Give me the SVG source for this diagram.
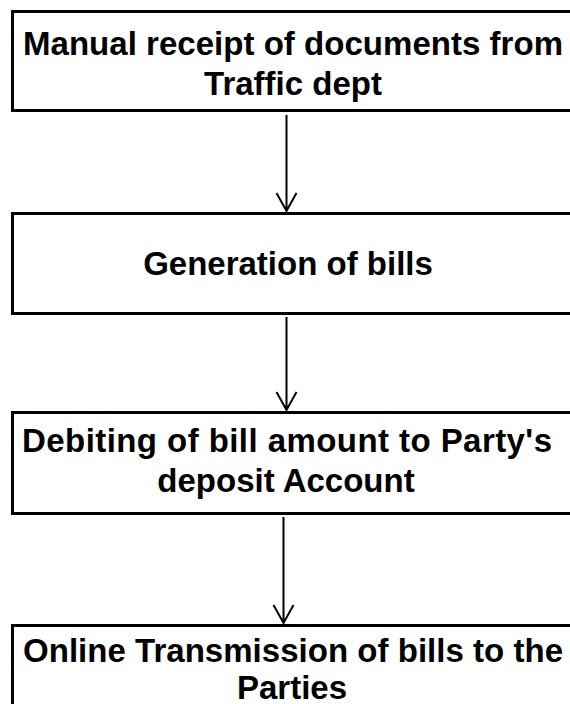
<svg xmlns="http://www.w3.org/2000/svg" width="570" height="704" viewBox="0 0 570 704">
<style>
.box{fill:#fff;stroke:#000;stroke-width:3}
.t{font-family:"Liberation Sans",Arial,sans-serif;font-weight:bold;font-size:33px;fill:#000;text-anchor:middle}
.c{stroke:#000;stroke-width:2;fill:none}
</style>
<rect width="570" height="704" fill="#fff"/>
<g id="n1">
<rect class="box" x="12.5" y="11.5" width="580" height="99"/>
<text class="t" x="293" y="55" textLength="540">Manual receipt of documents from</text>
<text class="t" x="293" y="95">Traffic dept</text>
</g>
<g id="n2">
<rect class="box" x="12.5" y="213.5" width="580" height="100"/>
<text class="t" x="288" y="275">Generation of bills</text>
</g>
<g id="n3">
<rect class="box" x="12.5" y="412.5" width="580" height="101"/>
<text class="t" x="287" y="452" textLength="530">Debiting of bill amount to Party's</text>
<text class="t" x="286" y="492">deposit Account</text>
</g>
<g id="n4">
<rect class="box" x="12.5" y="625.5" width="580" height="100"/>
<text class="t" x="293" y="662" textLength="540">Online Transmission of bills to the</text>
<text class="t" x="292" y="699">Parties</text>
</g>
<g id="connectors">
<path class="c" d="M286.5 115V211M276.5 193L286.5 211L296.5 193"/>
<path class="c" d="M286.5 317V410M276.5 392L286.5 410L296.5 392"/>
<path class="c" d="M283.5 517V623M273.5 605L283.5 623L293.5 605"/>
</g>
</svg>
